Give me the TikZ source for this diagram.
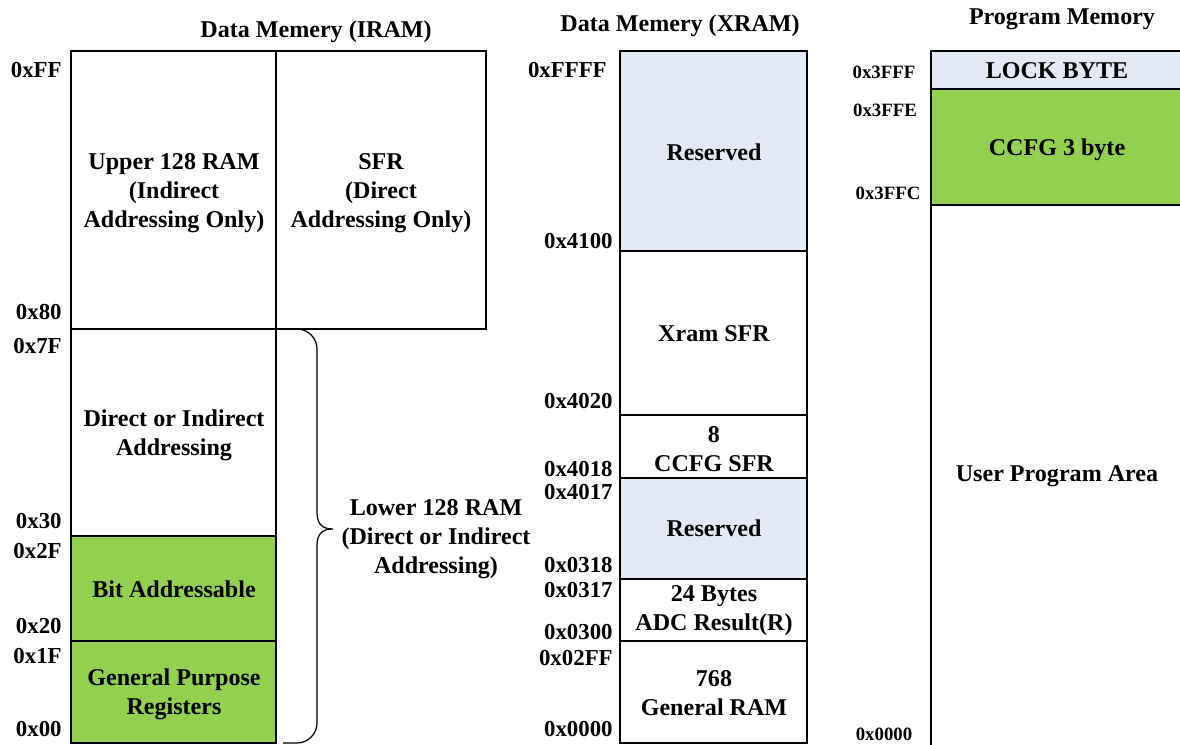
\documentclass[tikz,border=0pt]{standalone}
\usepackage{fontspec}
\setmainfont{Liberation Serif}
\usetikzlibrary{positioning}
\definecolor{RegGreen}{HTML}{92D050}
\definecolor{PaleBlue}{HTML}{E3EAF5}

\tikzset{
  region/.style={draw=black, line width=0.7pt},
  areatext/.style={font=\fontsize{13.7}{16.5}\selectfont\bfseries, align=center, inner sep=0pt},
  addr/.style={font=\fontsize{13}{15}\selectfont\bfseries, anchor=east, inner sep=0pt},
  pmaddr/.style={font=\fontsize{10.7}{13}\selectfont\bfseries, inner sep=0pt},
}

\begin{document}
\begin{tikzpicture}[x=0.02cm, y=-0.02cm]
    \useasboundingbox (0,0) rectangle (1180,744);

    % Data memory (IRAM)
    \node[areatext] (iramtitle) at (316,32) {Data Memery (IRAM)};
    \draw[region] (71,51) rectangle (276,329);
    \draw[region] (276,51) rectangle (486,329);
    \draw[region] (71,329) rectangle (276,536);
    \draw[region, fill=RegGreen] (71,536) rectangle (276,641);
    \draw[region, fill=RegGreen] (71,641) rectangle (276,743);
    \node[areatext] (upper) at (174,193) {Upper 128 RAM\\(Indirect\\Addressing Only)};
    \node[areatext] (sfr) at (381,193) {SFR\\(Direct\\Addressing Only)};
    \node[areatext] (direct) at (174,435) {Direct or Indirect\\Addressing};
    \node[areatext] (bitaddr) at (174,589) {Bit Addressable};
    \node[areatext] (gpr) at (174,694) {General Purpose\\Registers};
    \node[addr] (aFF) at (62,70) {0xFF};
    \node[addr] (a80) at (62,312) {0x80};
    \node[addr] (a7F) at (62,346) {0x7F};
    \node[addr] (a30) at (62,521) {0x30};
    \node[addr] (a2F) at (62,551) {0x2F};
    \node[addr] (a20) at (62,626) {0x20};
    \node[addr] (a1F) at (62,656) {0x1F};
    \node[addr] (a00) at (62,729) {0x00};

    % brace over the lower 128 bytes
    \draw[line width=0.7pt] (283,329) -- (297,329) .. controls (308,329) and (317,338) .. (317,349)
        -- (317,512) .. controls (317,524) and (322,529) .. (333,529)
        .. controls (322,529) and (317,534) .. (317,546)
        -- (317,723) .. controls (317,734) and (308,743) .. (297,743) -- (283,743);
    \node[areatext] (lower) at (436,539) {Lower 128 RAM\\(Direct or Indirect\\Addressing)};

    % Data memory (XRAM)
    \node[areatext] (xramtitle) at (680,26) {Data Memery (XRAM)};
    \draw[region, fill=PaleBlue] (620,51) rectangle (807,251);
    \draw[region] (620,251) rectangle (807,415);
    \draw[region] (620,415) rectangle (807,478);
    \draw[region, fill=PaleBlue] (620,478) rectangle (807,579);
    \draw[region] (620,579) rectangle (807,641);
    \draw[region] (620,641) rectangle (807,743);
    \node[areatext] (resvhi) at (714,152) {Reserved};
    \node[areatext] (xsfr) at (714,334) {Xram SFR};
    \node[areatext] (ccfgsfr) at (714,449) {8\\CCFG SFR};
    \node[areatext] (resvlo) at (714,528) {Reserved};
    \node[areatext] (adc) at (714,611) {24 Bytes\\ADC Result(R)};
    \node[areatext] (gram) at (714,693) {768\\General RAM};
    \node[addr] (xFFFF) at (607,70) {0xFFFF};
    \node[addr] (x4100) at (613,241) {0x4100};
    \node[addr] (x4020) at (613,401) {0x4020};
    \node[addr] (x4018) at (613,469) {0x4018};
    \node[addr] (x4017) at (613,492) {0x4017};
    \node[addr] (x0318) at (613,565) {0x0318};
    \node[addr] (x0317) at (613,590) {0x0317};
    \node[addr] (x0300) at (613,632) {0x0300};
    \node[addr] (x02FF) at (613,658) {0x02FF};
    \node[addr] (x0000) at (613,729) {0x0000};

    % Program memory
    \node[areatext] (pmtitle) at (1062,19) {Program Memory};
    \begin{scope}
        \clip (0,0) rectangle (1180,744);
        \draw[region, fill=PaleBlue] (931,51) rectangle (1190,89);
        \draw[region, fill=RegGreen] (931,89) rectangle (1190,205);
        \draw[region] (931,205) rectangle (1190,760);
    \end{scope}
    \node[areatext] (lock) at (1057,71) {LOCK BYTE};
    \node[areatext] (ccfg) at (1057,150) {CCFG 3 byte};
    \node[areatext] (user) at (1057,476) {User Program Area};
    \node[pmaddr] (p3FFF) at (884,72) {0x3FFF};
    \node[pmaddr] (p3FFE) at (885,110) {0x3FFE};
    \node[pmaddr] (p3FFC) at (888,193) {0x3FFC};
    \node[pmaddr] (p0000) at (884,734) {0x0000};
\end{tikzpicture}
\end{document}
